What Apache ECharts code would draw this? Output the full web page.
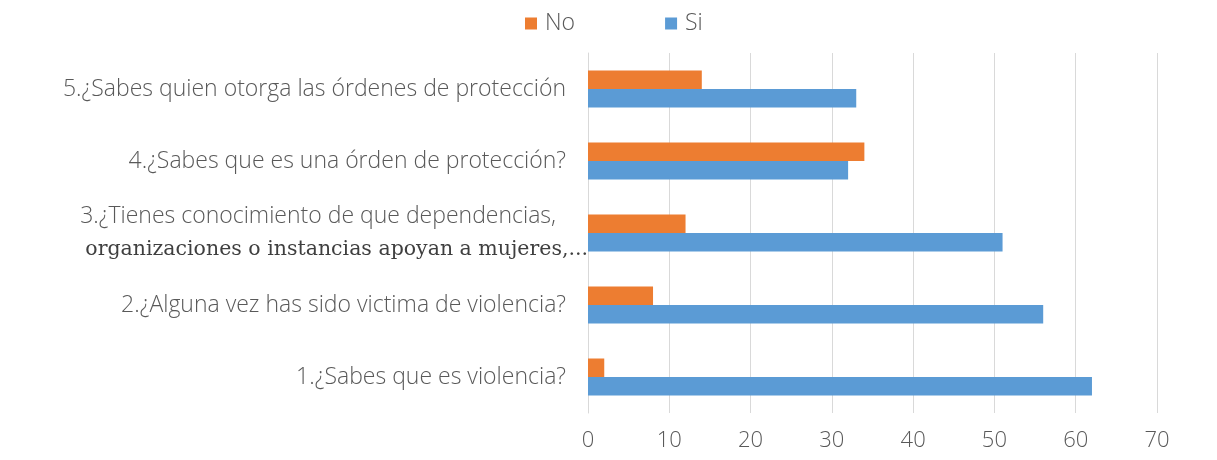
<!DOCTYPE html>
<html>
<head>
<meta charset="utf-8">
<script src="https://cdn.jsdelivr.net/npm/echarts@6/dist/echarts.min.js"></script>
<style>
html,body{margin:0;padding:0;background:#fff;}
#c{width:1217px;height:460px;}
</style>
</head>
<body>
<div id="c"></div>
<script>
const categories = [
  "1.¿Sabes que es violencia?",
  "2.¿Alguna vez has sido victima de violencia?",
  "3.¿Tienes conocimiento de que dependencias,\norganizaciones o instancias apoyan a mujeres,...",
  "4.¿Sabes que es una órden de protección?",
  "5.¿Sabes quien otorga las órdenes de protección"
];
const siValues = [62, 56, 51, 32, 33];
const noValues = [2, 8, 12, 34, 14];
const xTicks = [0, 10, 20, 30, 40, 50, 60, 70];

const FONT = "'Open Sans', 'Noto Sans', sans-serif";
const chart = echarts.init(document.getElementById('c'), null, {renderer: 'canvas'});
chart.setOption({
  animation: false,
  textStyle: {fontFamily: FONT},
  legend: {
    data: ['No', 'Si'],
    top: 7,
    left: 520,
    itemWidth: 12,
    itemHeight: 12,
    itemGap: 90,
    icon: 'rect',
    textStyle: {fontSize: 23, color: '#595959', fontFamily: FONT, fontWeight: 300, padding: [0, 0, 0, 3]}
  },
  grid: {left: 588, right: 60, top: 53, bottom: 47, containLabel: false},
  xAxis: {
    type: 'value',
    min: xTicks[0],
    max: xTicks[xTicks.length - 1],
    interval: 10,
    axisLine: {show: false},
    axisTick: {show: false},
    splitLine: {show: true, lineStyle: {color: '#d9d9d9', width: 1}},
    axisLabel: {fontSize: 22, color: '#595959', margin: 17, fontFamily: FONT, fontWeight: 300}
  },
  yAxis: {
    type: 'category',
    data: categories,
    axisLine: {show: true, lineStyle: {color: '#d9d9d9', width: 1}},
    axisTick: {show: false},
    axisLabel: {
      fontSize: 23,
      color: '#595959',
      margin: 22,
      fontFamily: FONT,
      fontWeight: 300,
      formatter: function (v) {
        if (v.indexOf('\n') >= 0) {
          const p = v.split('\n');
          return '{a|' + p[0] + '}\n{b|' + p[1] + '}';
        }
        return v;
      },
      rich: {
        a: {fontSize: 23, color: '#595959', fontFamily: FONT, fontWeight: 300, lineHeight: 34, padding: [0, 10, 0, 0]},
        b: {fontSize: 20.5, color: '#3f3f3f', fontFamily: "'DejaVu Serif', 'Liberation Serif', serif", lineHeight: 34, padding: [0, -22, 0, 0]}
      }
    }
  },
  series: [
    {
      name: 'No',
      type: 'bar',
      data: noValues,
      barWidth: 18.5,
      barGap: '0%',
      itemStyle: {color: '#ed7d31'}
    },
    {
      name: 'Si',
      type: 'bar',
      data: siValues,
      barWidth: 18.5,
      barGap: '0%',
      itemStyle: {color: '#5b9bd5'}
    }
  ]
});
</script>
</body>
</html>
